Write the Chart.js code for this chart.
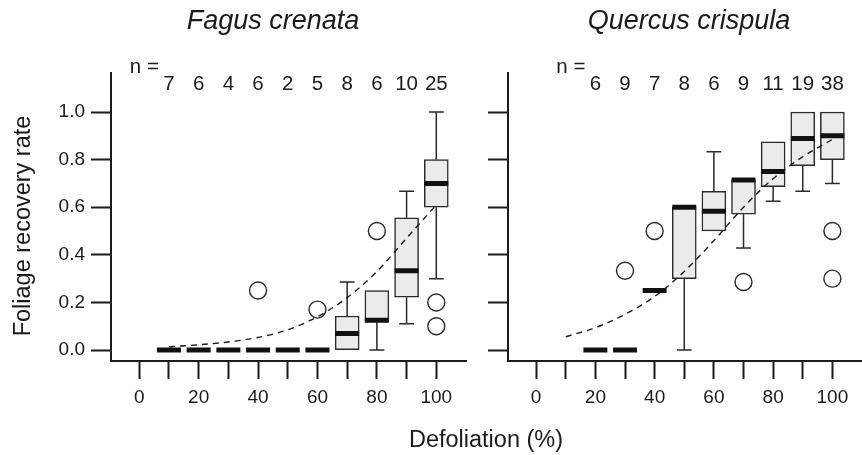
<!DOCTYPE html>
<html>
<head>
<meta charset="utf-8">
<script src="https://cdn.jsdelivr.net/npm/chart.js@4.4.0/dist/chart.umd.min.js"></script>
<style>
  body { margin: 0; background: #fff; }
  #wrap { position: relative; width: 862px; height: 455px; }
  #wrap canvas { position: absolute; left: 0; top: 0; }
</style>
</head>
<body>
<div id="wrap">
  <canvas id="fagusChart" width="862" height="455"></canvas>
  <canvas id="quercusChart" width="862" height="455"></canvas>
</div>
<script>
Chart.defaults.font.family = "'Liberation Sans', Arial, sans-serif";
Chart.defaults.color = '#1a1a1a';

const FONT = "'Liberation Sans', Arial, sans-serif";
const INK = '#1a1a1a';

// shared axes
const xTicks = [0, 10, 20, 30, 40, 50, 60, 70, 80, 90, 100];
const yTicks = [0, 0.2, 0.4, 0.6, 0.8, 1.0];

// Fagus crenata
const fagusCats = [10, 20, 30, 40, 50, 60, 70, 80, 90, 100];
const fagusN = [7, 6, 4, 6, 2, 5, 8, 6, 10, 25];
const fagusLow = [0, 0, 0, 0, 0, 0, 0, 0, 0.111, 0.3];
const fagusQ1 = [0, 0, 0, 0, 0, 0, 0, 0.12, 0.222, 0.6];
const fagusMed = [0, 0, 0, 0, 0, 0, 0.07, 0.125, 0.333, 0.7];
const fagusQ3 = [0, 0, 0, 0, 0, 0, 0.143, 0.25, 0.556, 0.8];
const fagusHigh = [0, 0, 0, 0, 0, 0, 0.286, 0.25, 0.667, 1.0];
const fagusOutX = [40, 60, 80, 100, 100];
const fagusOutY = [0.25, 0.17, 0.5, 0.2, 0.1];
const fagusFitX = [10, 20, 30, 40, 50, 60, 70, 80, 90, 100];
const fagusFitY = [0.014, 0.022, 0.034, 0.053, 0.085, 0.14, 0.22, 0.33, 0.47, 0.61];

// Quercus crispula
const quercusCats = [20, 30, 40, 50, 60, 70, 80, 90, 100];
const quercusN = [6, 9, 7, 8, 6, 9, 11, 19, 38];
const quercusLow = [0, 0, 0.25, 0, 0.5, 0.429, 0.625, 0.667, 0.7];
const quercusQ1 = [0, 0, 0.25, 0.3, 0.5, 0.571, 0.686, 0.775, 0.8];
const quercusMed = [0, 0, 0.25, 0.6, 0.583, 0.714, 0.75, 0.889, 0.9];
const quercusQ3 = [0, 0, 0.25, 0.6, 0.667, 0.714, 0.875, 1.0, 1.0];
const quercusHigh = [0, 0, 0.25, 0.6, 0.833, 0.714, 0.875, 1.0, 1.0];
const quercusOutX = [30, 40, 70, 100, 100];
const quercusOutY = [0.333, 0.5, 0.286, 0.5, 0.3];
const quercusFitX = [10, 20, 30, 40, 50, 60, 70, 80, 90, 100];
const quercusFitY = [0.056, 0.094, 0.15, 0.225, 0.33, 0.46, 0.6, 0.72, 0.812, 0.885];

const HALF_BOX = 4.04;  // half box width in % defoliation units
const HALF_CAP = 2.5;   // half whisker staple width

function medianSegments(cats, med) {
  const pts = [];
  cats.forEach((c, i) => {
    pts.push({ x: c - HALF_BOX, y: med[i] }, { x: c + HALF_BOX, y: med[i] }, { x: c, y: null });
  });
  return pts;
}

function whiskerSegments(cats, low, q1, q3, high) {
  const pts = [];
  cats.forEach((c, i) => {
    if (low[i] < q1[i]) {
      pts.push({ x: c, y: low[i] }, { x: c, y: q1[i] }, { x: c, y: null });
      pts.push({ x: c - HALF_CAP, y: low[i] }, { x: c + HALF_CAP, y: low[i] }, { x: c, y: null });
    }
    if (high[i] > q3[i]) {
      pts.push({ x: c, y: q3[i] }, { x: c, y: high[i] }, { x: c, y: null });
      pts.push({ x: c - HALF_CAP, y: high[i] }, { x: c + HALF_CAP, y: high[i] }, { x: c, y: null });
    }
  });
  return pts;
}

function buildDatasets(cats, low, q1, med, q3, high, outX, outY, fitX, fitY) {
  return [
    {
      type: 'bar',
      data: cats.map((c, i) => ({ x: c, y: [q1[i], q3[i]] })),
      backgroundColor: '#ebebeb',
      borderColor: '#2a2a2a',
      borderWidth: 1.5,
      borderSkipped: false,
      barThickness: 24,
      order: 5
    },
    {
      type: 'line',
      data: whiskerSegments(cats, low, q1, q3, high),
      borderColor: '#2a2a2a',
      borderWidth: 1.5,
      pointRadius: 0,
      spanGaps: false,
      order: 4
    },
    {
      type: 'line',
      data: fitX.map((x, i) => ({ x: x, y: fitY[i] })),
      borderColor: INK,
      borderWidth: 1.4,
      borderDash: [6, 5],
      pointRadius: 0,
      cubicInterpolationMode: 'monotone',
      order: 3
    },
    {
      type: 'line',
      data: medianSegments(cats, med),
      borderColor: '#111',
      borderWidth: 5,
      pointRadius: 0,
      spanGaps: false,
      order: 2
    },
    {
      type: 'line',
      data: outX.map((x, i) => ({ x: x, y: outY[i] })),
      showLine: false,
      pointRadius: 8.5,
      pointBorderWidth: 1.4,
      pointBorderColor: '#2a2a2a',
      pointBackgroundColor: 'rgba(255,255,255,0)',
      order: 1
    }
  ];
}

// titles, n counts and axis titles
const panelText = {
  id: 'panelText',
  afterDraw(chart, args, opts) {
    const { ctx } = chart;
    const xs = chart.scales.x;
    ctx.save();
    ctx.fillStyle = INK;
    ctx.textBaseline = 'alphabetic';

    ctx.font = 'italic 27px ' + FONT;
    ctx.textAlign = 'center';
    ctx.fillText(opts.title, opts.titleX, 29);

    ctx.font = '20.5px ' + FONT;
    ctx.textAlign = 'right';
    ctx.fillText('n =', xs.getPixelForValue(opts.cats[0]) - 10, 73);
    ctx.textAlign = 'center';
    opts.cats.forEach((c, i) => {
      ctx.fillText(String(opts.n[i]), xs.getPixelForValue(c), 90);
    });

    if (opts.yTitle) {
      ctx.save();
      ctx.font = '23.5px ' + FONT;
      ctx.translate(24, 226);
      ctx.rotate(-Math.PI / 2);
      ctx.textBaseline = 'middle';
      ctx.fillText(opts.yTitle, 0, 0);
      ctx.restore();
    }
    if (opts.xTitle) {
      ctx.font = '23.5px ' + FONT;
      ctx.textBaseline = 'middle';
      ctx.fillText(opts.xTitle, 486, 441);
    }
    ctx.restore();
  }
};

function makeScales(yWidth, showYLabels) {
  return {
    x: {
      type: 'linear',
      min: -9.5,
      max: 110,
      offset: false,
      afterBuildTicks: s => { s.ticks = xTicks.map(v => ({ value: v })); },
      afterFit: s => { s.height = 94; s.paddingLeft = 0; s.paddingRight = 0; },
      ticks: {
        autoSkip: false,
        maxRotation: 0,
        padding: 7,
        color: INK,
        font: { size: 19 },
        callback: v => (v % 20 === 0 ? String(v) : '')
      },
      grid: { drawOnChartArea: false, drawTicks: true, tickLength: 18, tickWidth: 2, tickColor: INK, offset: false },
      border: { display: true, color: INK, width: 2 }
    },
    y: {
      type: 'linear',
      min: -0.046,
      max: 1.164,
      afterBuildTicks: s => { s.ticks = yTicks.map(v => ({ value: v })); },
      afterFit: s => { s.width = yWidth; s.paddingTop = 0; s.paddingBottom = 0; },
      ticks: {
        padding: 6,
        color: INK,
        font: { size: 19 },
        callback: v => (showYLabels ? v.toFixed(1) : '')
      },
      grid: { drawOnChartArea: false, drawTicks: true, tickLength: 20, tickWidth: 2, tickColor: INK },
      border: { display: true, color: INK, width: 2 }
    }
  };
}

const baseOptions = {
  responsive: false,
  animation: false,
  events: []
};

new Chart(document.getElementById('fagusChart'), {
  type: 'line',
  data: { datasets: buildDatasets(fagusCats, fagusLow, fagusQ1, fagusMed, fagusQ3, fagusHigh,
                                  fagusOutX, fagusOutY, fagusFitX, fagusFitY) },
  options: Object.assign({}, baseOptions, {
    layout: { autoPadding: false, padding: { left: 0, top: 73, right: 396, bottom: 0 } },
    scales: makeScales(111, true),
    plugins: {
      legend: { display: false },
      tooltip: { enabled: false },
      panelText: {
        title: 'Fagus crenata', titleX: 273,
        cats: fagusCats, n: fagusN,
        yTitle: 'Foliage recovery rate',
        xTitle: 'Defoliation (%)'
      }
    }
  }),
  plugins: [panelText]
});

new Chart(document.getElementById('quercusChart'), {
  type: 'line',
  data: { datasets: buildDatasets(quercusCats, quercusLow, quercusQ1, quercusMed, quercusQ3, quercusHigh,
                                  quercusOutX, quercusOutY, quercusFitX, quercusFitY) },
  options: Object.assign({}, baseOptions, {
    layout: { autoPadding: false, padding: { left: 490, top: 73, right: 0, bottom: 0 } },
    scales: makeScales(18, false),
    plugins: {
      legend: { display: false },
      tooltip: { enabled: false },
      panelText: {
        title: 'Quercus crispula', titleX: 689,
        cats: quercusCats, n: quercusN
      }
    }
  }),
  plugins: [panelText]
});
</script>
</body>
</html>
